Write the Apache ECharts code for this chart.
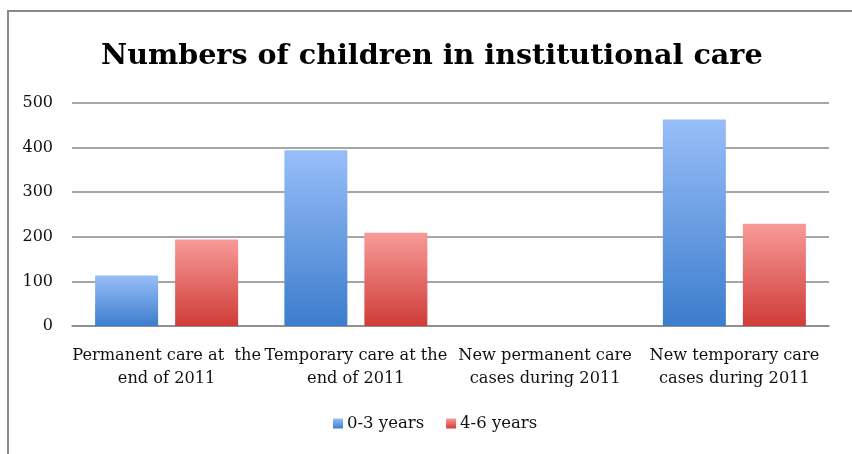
<!DOCTYPE html>
<html><head><meta charset="utf-8">
<script src="https://cdn.jsdelivr.net/npm/echarts@6/dist/echarts.min.js"></script>
<style>html,body{margin:0;padding:0;background:#fff}#c{width:852px;height:454px}</style>
</head><body><div id="c"></div>
<script>
const categories = ["Permanent care at  the\nend of 2011", "Temporary care at the\nend of 2011", "New permanent care\ncases during 2011", "New temporary care\ncases during 2011"];
const seriesNames = ["0-3 years", "4-6 years"];
const values03 = [113, 394, 0, 463];
const values46 = [194, 209, 0, 229];
const yTicks = [0, 100, 200, 300, 400, 500];

const FONT = "DejaVu Serif";
function grad(top, bottom){
  return new echarts.graphic.LinearGradient(0,0,0,1,[{offset:0,color:top},{offset:1,color:bottom}]);
}
const chart = echarts.init(document.getElementById('c'), null, {renderer:'canvas'});
chart.setOption({
  animation:false,
  backgroundColor:'#fff',
  graphic:[{type:'rect', shape:{x:8,y:11,width:900,height:600}, style:{fill:'none',stroke:'#8a8a8a',lineWidth:2}, z:-1}],
  title:{text:"Numbers of children in institutional care", left:96, top:37,
    textStyle:{fontFamily:FONT, fontWeight:'bold', fontSize:28.6, color:'#000'}},
  legend:{bottom:22, left:333, itemWidth:10, itemHeight:10, itemGap:22, padding:0,
    icon:'rect',
    textStyle:{fontFamily:FONT, fontSize:16.5, color:'#111', padding:[0,0,0,-1]},
    data:seriesNames},
  grid:{left:72, right:23, top:103, bottom:128},
  xAxis:{type:'category', data:categories,
    axisLine:{show:true, lineStyle:{color:'#888', width:1.5}},
    axisTick:{show:false},
    axisLabel:{fontFamily:FONT, fontSize:16.2, color:'#111', lineHeight:23, margin:18, interval:0}},
  yAxis:{type:'value', min:yTicks[0], max:yTicks[yTicks.length-1], interval:100,
    axisLine:{show:false}, axisTick:{show:false},
    splitLine:{lineStyle:{color:'#888', width:1.5}},
    axisLabel:{fontFamily:FONT, fontSize:16, color:'#111', margin:19, padding:[4,0,0,0]}},
  series:[
    {name:seriesNames[0], type:'bar', data:values03, barWidth:63, barGap:'27%',
      itemStyle:{color:grad('#98bef8','#3c7dcd')}},
    {name:seriesNames[1], type:'bar', data:values46, barWidth:63,
      itemStyle:{color:grad('#f89a98','#cf3c38')}}
  ]
});
</script></body></html>
